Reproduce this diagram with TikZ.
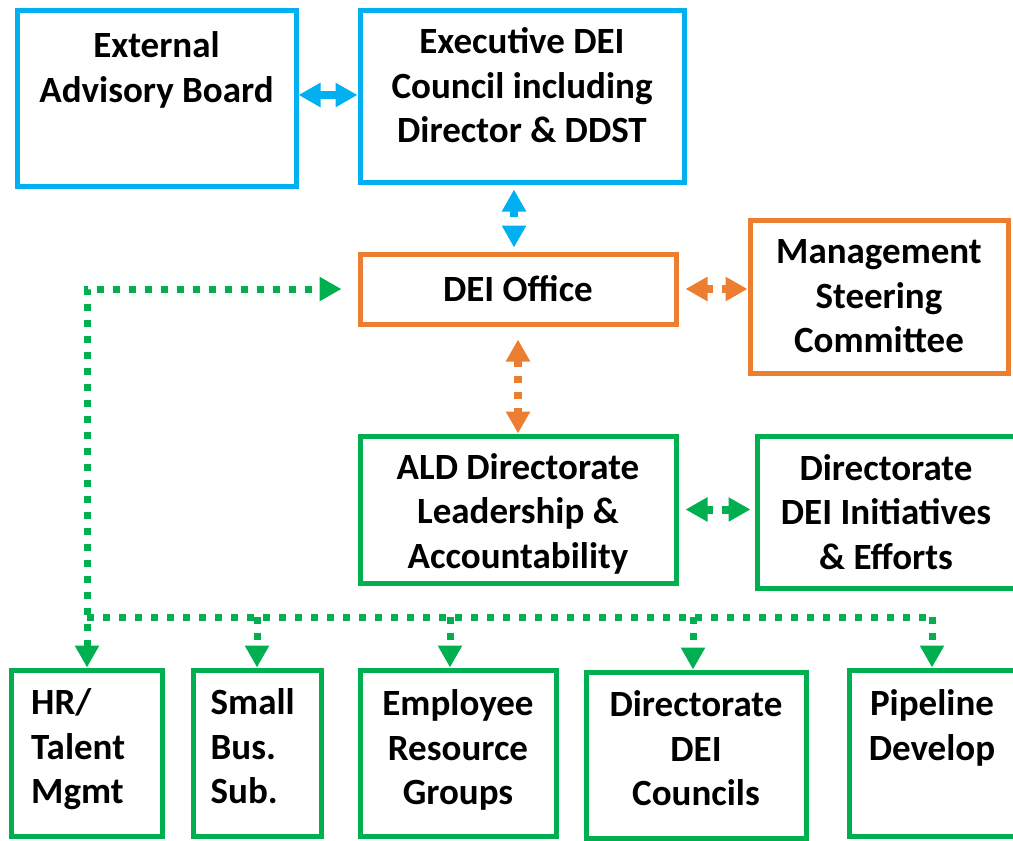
\documentclass[tikz,border=0pt]{standalone}
\usepackage{fontspec}
\setmainfont{Carlito}
\usetikzlibrary{arrows.meta}
\definecolor{deiblue}{HTML}{00B0F0}
\definecolor{deiorange}{HTML}{ED7D31}
\definecolor{deigreen}{HTML}{00B050}

\begin{document}
\begin{tikzpicture}[x=1pt,y=-1pt,
  font=\fontsize{37}{44.5}\selectfont\bfseries,
  >={Triangle[length=22pt,width=23pt]},
  box/.style={draw,line width=5pt,inner sep=0pt,align=center},
  txt/.style={inner sep=0pt,align=center},
  solidarrow/.style={line width=8pt},
  dasharrow/.style={line width=8pt,dash pattern=on 7pt off 9pt},
  dotline/.style={deigreen,line width=7pt,dash pattern=on 7pt off 9pt}]
\clip (0,0) rectangle (1013,841);

% top row
\node[box,draw=deiblue,minimum width=279pt,minimum height=176pt] (eab) at (156.5,98) {};
\node[txt,anchor=north] (eab-t) at ([yshift=-24pt]eab.north) {External\\Advisory Board};
\node[box,draw=deiblue,minimum width=324pt,minimum height=172pt] (exec) at (522,96) {};
\node[txt,anchor=north] (exec-t) at ([yshift=-20pt]exec.north) {Executive DEI\\Council including\\Director \& DDST};

% middle
\node[box,draw=deiorange,minimum width=316pt,minimum height=70pt] (deio) at (518,289) {DEI Office};
\node[box,draw=deiorange,minimum width=258pt,minimum height=153pt] (msc) at (879,296.5) {Management\\Steering\\Committee};
\node[box,draw=deigreen,minimum width=316pt,minimum height=147pt] (ald) at (518,509.5) {};
\node[txt] (ald-t) at ([yshift=-4pt]ald.center) {ALD Directorate\\Leadership \&\\Accountability};
\node[box,draw=deigreen,minimum width=258pt,minimum height=152pt] (ddi) at (886,512) {Directorate\\DEI Initiatives\\\& Efforts};

% bottom row
\node[box,draw=deigreen,minimum width=151pt,minimum height=166pt] (hr) at (87,753) {};
\node[txt,anchor=north west,align=left] (hr-t) at ([shift={(22pt,-21pt)}]hr.north west) {HR/\\Talent\\Mgmt};
\node[box,draw=deigreen,minimum width=128pt,minimum height=166pt] (sbs) at (257,753) {};
\node[txt,anchor=north west,align=left] (sbs-t) at ([shift={(20pt,-21pt)}]sbs.north west) {Small\\Bus.\\Sub.};
\node[box,draw=deigreen,minimum width=196pt,minimum height=166pt] (erg) at (458,753) {};
\node[txt,anchor=north] (erg-t) at ([yshift=-22pt]erg.north) {Employee\\Resource\\Groups};
\node[box,draw=deigreen,minimum width=220pt,minimum height=166pt] (ddc) at (696,755) {};
\node[txt,anchor=north] (ddc-t) at ([yshift=-21pt]ddc.north) {Directorate\\DEI\\Councils};
\node[box,draw=deigreen,minimum width=166pt,minimum height=166pt] (pd) at (932,753) {};
\node[txt,anchor=north] (pd-t) at ([yshift=-22pt]pd.north) {Pipeline\\Develop};

% connectors
\draw[solidarrow,deiblue,<->] ([yshift=3pt]eab.east) -- ([yshift=3pt]eab.east -| exec.west);
\draw[dasharrow,deiblue,<->] ([xshift=-8pt,yshift=-5pt]exec.south) -- ([xshift=-8pt,yshift=4pt]exec.south |- deio.north);
\draw[dasharrow,deiorange,<->] ([xshift=7pt]deio.east) -- (deio.east -| msc.west);
\draw[dasharrow,deiorange,<->] ([yshift=-13pt]deio.south) -- (ald.north);
\draw[dasharrow,deigreen,<->] ([xshift=7pt]ald.east) -- ([xshift=-4pt]ald.east -| ddi.west);

\coordinate (bus) at (0,617);
\draw[dotline,<->] (hr.north) |- ([xshift=-16pt]deio.west);
\draw[dotline] (hr.north |- bus) -- (pd.north |- bus);
\foreach \b/\s in {sbs/0,erg/-8,ddc/-3,pd/0}
  \draw[dotline,->] ([xshift=\s pt]\b.north |- bus) -- ([xshift=\s pt]\b.north);
\end{tikzpicture}
\end{document}
